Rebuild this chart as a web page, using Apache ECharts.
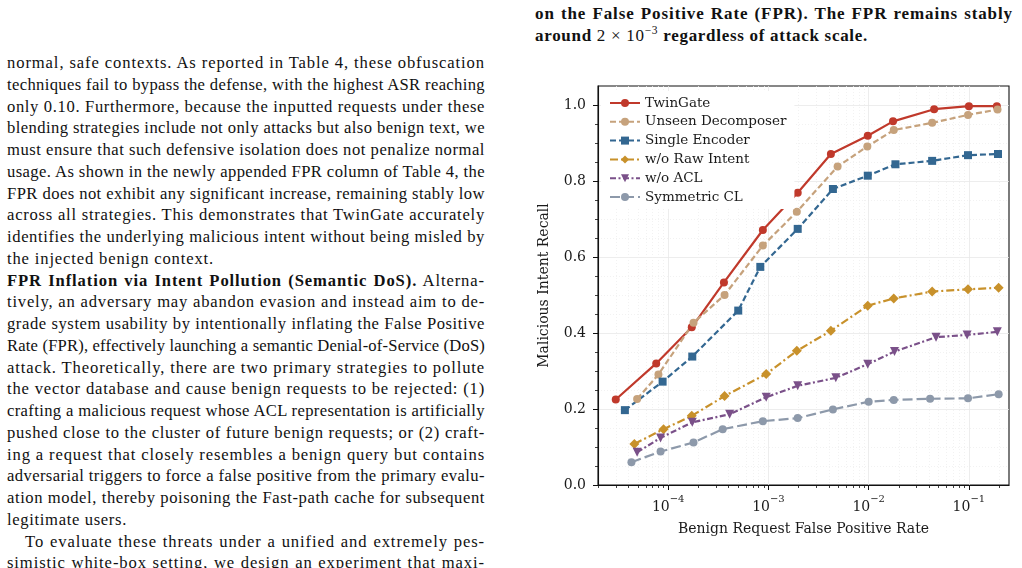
<!DOCTYPE html>
<html>
<head>
<meta charset="utf-8">
<script src="https://cdn.jsdelivr.net/npm/echarts@6/dist/echarts.min.js"></script>
<style>
  html, body { margin: 0; padding: 0; background: #fff; }
  #page { position: relative; width: 1022px; height: 568px; overflow: hidden; background: #fff; }
  .col { position: absolute; font-family: 'Liberation Serif', serif; font-size: 16.6px; color: #111; }
  .col div { height: 21.75px; line-height: 21.75px; white-space: nowrap; text-align: justify; text-align-last: justify; }
  .col div.end { text-align-last: left; }
  .col b { font-weight: bold; }
  #left { left: 7px; top: 52px; width: 478px; }
  #cap { left: 535px; top: 3px; width: 478px; font-weight: bold; font-size: 17px; }
  #cap .m { font-weight: normal; }
  #cap sup { font-size: 11.5px; font-weight: normal; line-height: 0; }
  #cu_line { position: absolute; left: 520px; top: 50px; width: 502px; height: 518px; }
</style>
</head>
<body>
<div id="page">
  <div class="col" id="cap">
    <div>on the False Positive Rate (FPR). The FPR remains stably</div>
    <div class="end" data-w="333">around <span class="m">2 × 10</span><sup>−3</sup> regardless of attack scale.</div>
  </div>
  <div class="col" id="left">
    <div>normal, safe contexts. As reported in Table 4, these obfuscation</div>
    <div>techniques fail to bypass the defense, with the highest ASR reaching</div>
    <div>only 0.10. Furthermore, because the inputted requests under these</div>
    <div>blending strategies include not only attacks but also benign text, we</div>
    <div>must ensure that such defensive isolation does not penalize normal</div>
    <div>usage. As shown in the newly appended FPR column of Table 4, the</div>
    <div>FPR does not exhibit any significant increase, remaining stably low</div>
    <div>across all strategies. This demonstrates that TwinGate accurately</div>
    <div>identifies the underlying malicious intent without being misled by</div>
    <div class="end" data-w="207">the injected benign context.</div>
    <div><b>FPR Inflation via Intent Pollution (Semantic DoS).</b> Alterna-</div>
    <div>tively, an adversary may abandon evasion and instead aim to de-</div>
    <div>grade system usability by intentionally inflating the False Positive</div>
    <div>Rate (FPR), effectively launching a semantic Denial-of-Service (DoS)</div>
    <div>attack. Theoretically, there are two primary strategies to pollute</div>
    <div>the vector database and cause benign requests to be rejected: (1)</div>
    <div>crafting a malicious request whose ACL representation is artificially</div>
    <div>pushed close to the cluster of future benign requests; or (2) craft-</div>
    <div>ing a request that closely resembles a benign query but contains</div>
    <div>adversarial triggers to force a false positive from the primary evalu-</div>
    <div>ation model, thereby poisoning the Fast-path cache for subsequent</div>
    <div class="end" data-w="120">legitimate users.</div>
    <div style="padding-left:18px">To evaluate these threats under a unified and extremely pes-</div>
    <div>simistic white-box setting, we design an experiment that maxi-</div>
  </div>
  <div id="cu_line"></div>
</div>
<script>
  // FPR (x) and recall (y) for each variant
  const twinFpr = [3.0e-5, 7.6e-5, 1.72e-4, 3.6e-4, 8.8e-4, 1.96e-3, 4.2e-3, 9.8e-3, 1.75e-2, 4.5e-2, 0.100, 0.190]
  const twinRecall = [0.225, 0.320, 0.415, 0.533, 0.671, 0.769, 0.871, 0.919, 0.957, 0.989, 0.997, 0.997]

  const unseenFpr = [4.9e-5, 8.0e-5, 1.79e-4, 3.65e-4, 8.8e-4, 1.92e-3, 4.9e-3, 9.7e-3, 1.78e-2, 4.3e-2, 0.098, 0.193]
  const unseenRecall = [0.226, 0.291, 0.427, 0.500, 0.630, 0.719, 0.838, 0.891, 0.934, 0.953, 0.974, 0.988]

  const singleFpr = [3.7e-5, 8.8e-5, 1.74e-4, 5.0e-4, 8.3e-4, 1.96e-3, 4.4e-3, 9.8e-3, 1.85e-2, 4.3e-2, 0.098, 0.195]
  const singleRecall = [0.197, 0.272, 0.338, 0.459, 0.574, 0.674, 0.779, 0.814, 0.844, 0.853, 0.868, 0.871]

  const rawFpr = [4.6e-5, 9.0e-5, 1.72e-4, 3.65e-4, 9.5e-4, 1.92e-3, 4.2e-3, 9.8e-3, 1.78e-2, 4.3e-2, 0.098, 0.198]
  const rawRecall = [0.108, 0.147, 0.182, 0.234, 0.292, 0.353, 0.406, 0.472, 0.491, 0.509, 0.515, 0.519]

  const aclFpr = [4.9e-5, 8.4e-5, 1.74e-4, 4.1e-4, 9.5e-4, 1.96e-3, 4.7e-3, 9.8e-3, 1.81e-2, 4.7e-2, 0.096, 0.192]
  const aclRecall = [0.086, 0.124, 0.165, 0.186, 0.231, 0.261, 0.282, 0.318, 0.351, 0.389, 0.395, 0.403]

  const symFpr = [4.3e-5, 8.4e-5, 1.79e-4, 3.5e-4, 8.8e-4, 1.96e-3, 4.4e-3, 1.0e-2, 1.78e-2, 4.1e-2, 0.098, 0.198]
  const symRecall = [0.060, 0.088, 0.112, 0.147, 0.168, 0.176, 0.199, 0.219, 0.224, 0.227, 0.228, 0.239]

  // tick labels
  const xDecades = [-4, -3, -2, -1]
  const yTicks = [0.0, 0.2, 0.4, 0.6, 0.8, 1.0]

  const X_MIN = -4.70
  const X_MAX = -0.60
  const Y_MIN = 0
  const Y_MAX = 1.05
  const FONT = 'DejaVu Serif'
  const INK = '#1a1a1a'

  // Libertine is wider than Times: spread letters a bit, justify does the rest
  document.querySelectorAll('.col div').forEach(function (el) {
    const span = document.createElement('span')
    span.innerHTML = el.innerHTML
    el.innerHTML = ''
    el.appendChild(span)
    el.style.textAlignLast = 'left'
    el.style.textAlign = 'left'
    const natural = span.getBoundingClientRect().width
    el.style.textAlignLast = ''
    el.style.textAlign = ''
    const n = span.textContent.length
    const pad = parseFloat(el.style.paddingLeft) || 0
    const target = el.dataset.w ? +el.dataset.w : el.parentNode.clientWidth - pad
    let ls = (target - natural) / n
    if (!el.dataset.w) ls = Math.min(ls, 0.9)
    el.style.letterSpacing = ls.toFixed(3) + 'px'
  })

  // log minor ticks 2..9 x 10^k
  const xMinor = []
  for (let d = -5; d <= -1; d++) {
    for (let m = 2; m <= 9; m++) {
      const v = d + Math.log10(m)
      if (v > X_MIN && v < X_MAX) xMinor.push(v)
    }
  }
  const yMinor = []
  for (let i = 1; i < 21; i++) {
    if (i % 4 !== 0) yMinor.push(+(i * 0.05).toFixed(2))
  }

  function line (name, fpr, recall, color, dash, symbol, size, rotate) {
    return {
      name: name,
      type: 'line',
      xAxisIndex: 0,
      yAxisIndex: 0,
      data: fpr.map((f, i) => [Math.log10(f), recall[i]]),
      symbol: symbol,
      symbolSize: size,
      symbolRotate: rotate || 0,
      showSymbol: true,
      lineStyle: {color: color, width: 2.2, type: dash},
      itemStyle: {color: color},
      emphasis: {disabled: true}
    }
  }

  const chart = echarts.init(document.getElementById('cu_line'))
  chart.setOption({
    animation: false,
    textStyle: {fontFamily: FONT},
    grid: {
      left: 78,
      top: 36,
      width: 411,
      height: 399,
      show: true,
      borderColor: '#111',
      borderWidth: 1.1,
      containLabel: false,
      outerBoundsMode: 'none'
    },
    legend: {
      orient: 'vertical',
      left: 81,
      top: 41,
      padding: [5, 8, 5, 8],
      backgroundColor: '#fff',
      itemWidth: 30,
      itemHeight: 10,
      itemGap: 4.8,
      textStyle: {fontFamily: FONT, fontSize: 13.5, color: INK, lineHeight: 14},
      data: ['TwinGate', 'Unseen Decomposer', 'Single Encoder', 'w/o Raw Intent', 'w/o ACL', 'Symmetric CL']
    },
    xAxis: [
      {
        type: 'value',
        min: X_MIN,
        max: X_MAX,
        position: 'bottom',
        name: 'Benign Request False Positive Rate',
        nameLocation: 'middle',
        nameGap: 37,
        nameTextStyle: {fontFamily: FONT, fontSize: 14, color: INK},
        axisLine: {show: true, lineStyle: {color: '#111', width: 1.1}},
        axisTick: {show: true, length: 5, customValues: xDecades, lineStyle: {color: '#111', width: 1}},
        axisLabel: {
          customValues: xDecades,
          margin: 9,
          formatter: v => '{b|10}{s|−' + Math.abs(Math.round(v)) + '}',
          rich: {
            b: {fontFamily: FONT, fontSize: 14, color: INK, lineHeight: 20, verticalAlign: 'bottom'},
            s: {fontFamily: FONT, fontSize: 10, color: INK, lineHeight: 20, verticalAlign: 'top'}
          }
        },
        splitLine: {show: true, lineStyle: {color: '#e8e8e8', width: 0.8}}
      },
      {
        type: 'value',
        min: X_MIN,
        max: X_MAX,
        position: 'bottom',
        axisLine: {show: false},
        axisTick: {show: true, length: 3, customValues: xMinor, lineStyle: {color: '#111', width: 0.8}},
        axisLabel: {show: false},
        splitLine: {show: true, lineStyle: {color: '#efefef', width: 0.8, type: [1, 2]}}
      }
    ],
    yAxis: [
      {
        type: 'value',
        min: Y_MIN,
        max: Y_MAX,
        position: 'left',
        name: 'Malicious Intent Recall',
        nameLocation: 'middle',
        nameGap: 47,
        nameTextStyle: {fontFamily: FONT, fontSize: 14, color: INK},
        axisLine: {show: true, lineStyle: {color: '#111', width: 1.1}},
        axisTick: {show: true, length: 5, customValues: yTicks, lineStyle: {color: '#111', width: 1}},
        axisLabel: {
          customValues: yTicks,
          margin: 12,
          fontFamily: FONT,
          fontSize: 14,
          color: INK,
          formatter: v => v.toFixed(1)
        },
        splitLine: {show: true, lineStyle: {color: '#e8e8e8', width: 0.8}}
      },
      {
        type: 'value',
        min: Y_MIN,
        max: Y_MAX,
        position: 'left',
        axisLine: {show: false},
        axisTick: {show: true, length: 3, customValues: yMinor, lineStyle: {color: '#111', width: 0.8}},
        axisLabel: {show: false},
        splitLine: {show: true, lineStyle: {color: '#efefef', width: 0.8, type: [1, 2]}}
      }
    ],
    series: [
      line('TwinGate', twinFpr, twinRecall, '#c0392b', 'solid', 'circle', 8),
      line('Unseen Decomposer', unseenFpr, unseenRecall, '#c6a27c', [6, 3], 'circle', 8),
      line('Single Encoder', singleFpr, singleRecall, '#336791', [6, 3], 'rect', 8),
      line('w/o Raw Intent', rawFpr, rawRecall, '#c8912b', [8, 3, 2, 3], 'diamond', 10),
      line('w/o ACL', aclFpr, aclRecall, '#7a5089', [6, 2.5, 2, 2.5], 'triangle', 9, 180),
      line('Symmetric CL', symFpr, symRecall, '#8d99aa', [10, 4], 'circle', 8)
    ]
  })
</script>
</body>
</html>
